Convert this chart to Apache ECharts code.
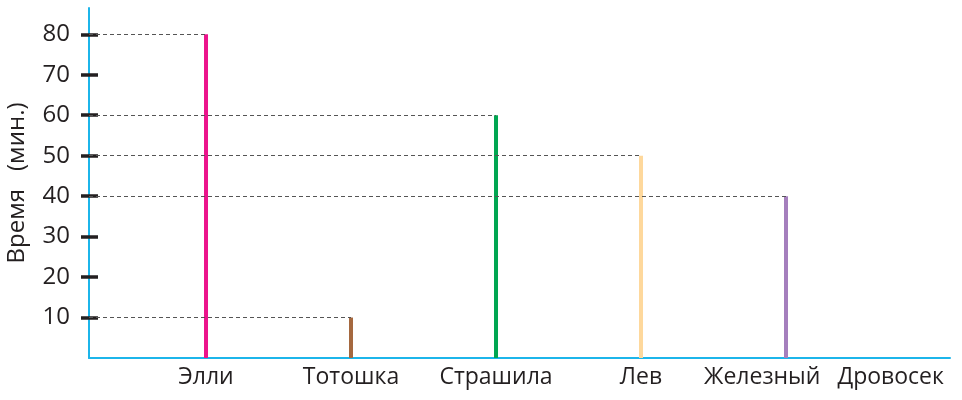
<!DOCTYPE html>
<html><head><meta charset="utf-8">
<script src="https://cdn.jsdelivr.net/npm/echarts@6/dist/echarts.min.js"></script>
<style>html,body{margin:0;padding:0;background:#fff}#c{width:962px;height:400px}</style>
</head><body><div id="c"></div>
<script>
const categories = ['Элли', 'Тотошка', 'Страшила', 'Лев', 'Железный Дровосек'];
const values = [80, 10, 60, 50, 40];
const colors = ['#ec148c', '#a5683f', '#00a651', '#fed89c', '#a57fbd'];
const yTicks = [10, 20, 30, 40, 50, 60, 70, 80];
const yTitle = 'Время  (мин.)';

const xMin = -0.807, xMax = 5.131;
const FONT = 'Open Sans';
const chart = echarts.init(document.getElementById('c'), null, {renderer: 'canvas'});

function spaced(text) {
  const parts = text.split(/\s+/);
  return parts.map(p => '{p|' + p + '}').join('{g|}');
}

const idx = categories.map((_, i) => i);
const option = {
  animation: false,
  grid: {left: 89, right: 12, top: 8, bottom: 42, containLabel: false, outerBoundsMode: 'none'},
  xAxis: {
    type: 'value', min: xMin, max: xMax,
    splitLine: {show: false},
    axisLine: {show: true, onZero: false, lineStyle: {color: '#1cb5ea', width: 2}},
    axisTick: {show: false},
    axisLabel: {
      customValues: idx, margin: 8, color: '#231f20', fontFamily: FONT, fontSize: 23,
      formatter: v => {
        const n = categories[Math.round(v)] || '';
        if (n.indexOf(' ') >= 0) return '{s|}' + spaced(n);
        return n;
      },
      rich: {
        p: {fontFamily: FONT, fontSize: 23, color: '#231f20'},
        g: {width: 17},
        s: {width: 76}
      }
    }
  },
  yAxis: [{
    type: 'value', min: 0, max: 86.5, interval: 10,
    splitLine: {show: false},
    axisLine: {show: true, onZero: false, lineStyle: {color: '#1cb5ea', width: 2}},
    axisTick: {show: true, customValues: yTicks, length: 8, lineStyle: {color: '#231f20', width: 3.5}},
    axisLabel: {customValues: yTicks, margin: 19, color: '#231f20', fontFamily: FONT, fontSize: 24},
    name: spaced(yTitle), nameLocation: 'middle', nameGap: 60, nameRotate: 90,
    nameTextStyle: {
      fontFamily: FONT, fontSize: 24, color: '#231f20',
      rich: {p: {fontFamily: FONT, fontSize: 24, color: '#231f20'}, g: {width: 18}}
    }
  }, {
    type: 'value', min: 0, max: 86.5, interval: 10, position: 'left',
    splitLine: {show: false},
    axisLine: {show: false, onZero: false},
    axisTick: {show: true, inside: true, customValues: yTicks, length: 9, lineStyle: {color: '#231f20', width: 3.5}},
    axisLabel: {show: false}
  }],
  series: [{
    type: 'bar', barWidth: 4, yAxisIndex: 0,
    data: values.map((v, i) => ({value: [i, v], itemStyle: {color: colors[i]}})),
    markLine: {
      silent: true, symbol: 'none', label: {show: false},
      lineStyle: {type: [4, 3], color: '#555', width: 1},
      data: values.map((v, i) => [{coord: [xMin, v]}, {coord: [i, v]}])
    },
    z: 3
  }]
};
chart.setOption(option);
</script></body></html>
